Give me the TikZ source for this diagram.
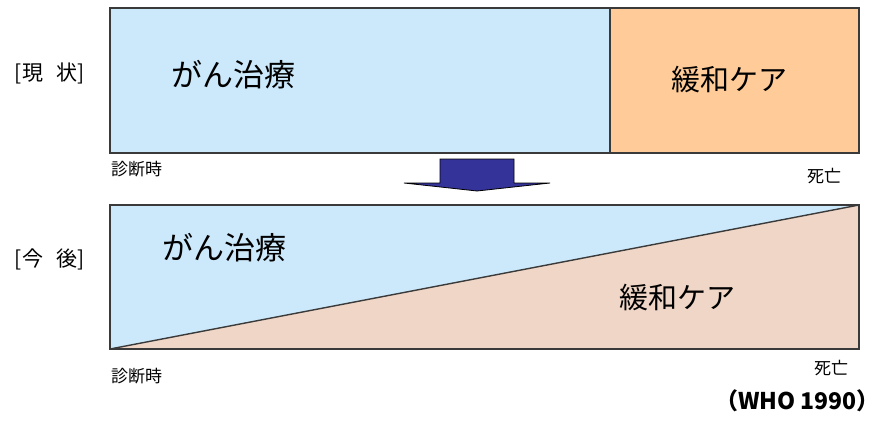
\documentclass[tikz,border=0pt]{standalone}
\usepackage{fontspec}
\newfontfamily\jp{Noto Sans CJK JP}
\definecolor{lblue}{HTML}{CCE9FB}
\definecolor{lorange}{HTML}{FFCC99}
\definecolor{lpink}{HTML}{EFD6C6}
\definecolor{arrblue}{HTML}{333399}
\definecolor{edge}{HTML}{3A3A3A}
\tikzset{
  box/.style={draw=edge, line width=1.4pt},
  lbl/.style={inner sep=0pt, font=\jp, text=black},
  big/.style={lbl, font=\jp\fontsize{31pt}{31pt}\selectfont},
  big2/.style={lbl, font=\jp\fontsize{29pt}{29pt}\selectfont},
  side/.style={lbl, font=\jp\fontsize{21pt}{21pt}\selectfont},
  tick/.style={lbl, font=\jp\fontsize{17pt}{17pt}\selectfont},
}
\begin{document}
\begin{tikzpicture}[x=1pt,y=-1pt]
\useasboundingbox (0,0) rectangle (882,420);
% top bar
\coordinate (tTL) at (110,8);
\coordinate (tBR) at (859,153);
\coordinate (tDivT) at (610,8);
\coordinate (tDivB) at (610,153);
\fill[lblue] (tTL) rectangle (tDivB);
\fill[lorange] (tDivT) rectangle (tBR);
\draw[box] (tTL) rectangle (tBR);
\draw[box] (tDivT) -- (tDivB);
% bottom bar
\coordinate (bTL) at (110,205);
\coordinate (bTR) at (859,205);
\coordinate (bBL) at (110,349);
\coordinate (bBR) at (859,349);
\fill[lblue] (bTL) -- (bTR) -- (bBL) -- cycle;
\fill[lpink] (bBL) -- (bTR) -- (bBR) -- cycle;
\draw[box] (bTL) rectangle (bBR);
\draw[box] (bBL) -- (bTR);
% arrow
\fill[arrblue, draw=black, line width=0.8pt]
  (440,159) -- (514,159) -- (514,183) -- (550,183) -- (477,191) -- (404,183) -- (440,183) -- cycle;
% labels
\node[side] (nowlbl) at (50,73) {[現\hspace{14pt}状]};
\node[big, anchor=west] (treat1) at (171,75) {がん治療};
\node[big2, anchor=west] (pall1) at (671,80) {緩和ケア};
\node[tick, anchor=west] (diag1) at (111,169) {診断時};
\node[tick, anchor=west] (death1) at (807,176) {死亡};
\node[side] (futlbl) at (50,259) {[今\hspace{14pt}後]};
\node[big, anchor=west] (treat2) at (162,248) {がん治療};
\node[big2, anchor=west] (pall2) at (619,298) {緩和ケア};
\node[tick, anchor=west] (diag2) at (111,376) {診断時};
\node[tick, anchor=west] (death2) at (814,368) {死亡};
\node[lbl, anchor=east, font=\jp\bfseries\fontsize{23pt}{23pt}\selectfont] (who) at (880,401) {（WHO 1990）};
\end{tikzpicture}
\end{document}
